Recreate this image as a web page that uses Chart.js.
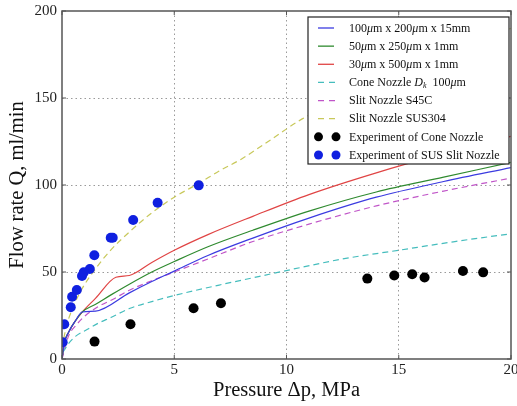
<!DOCTYPE html>
<html><head><meta charset="utf-8">
<script src="https://cdn.jsdelivr.net/npm/chart.js@4/dist/chart.umd.min.js"></script>
<style>html,body{margin:0;padding:0;background:#fff;}canvas{display:block;}</style>
</head><body>
<canvas id="c" width="517" height="406"></canvas>
<script>
// ---- data ----
const seriesLabels = [
  "100μm x 200μm x 15mm",
  "50μm x 250μm x 1mm",
  "30μm x 500μm x 1mm",
  "Cone Nozzle Dₖ  100μm",
  "Slit Nozzle S45C",
  "Slit Nozzle SUS304",
  "Experiment of Cone Nozzle",
  "Experiment of SUS Slit Nozzle"
];
const xTickValues = [0, 5, 10, 15, 20];
const yTickValues = [0, 50, 100, 150, 200];
const xAxisTitle = "Pressure Δp, MPa";
const yAxisTitle = "Flow rate Q, ml/min";

const line100x200X = [0, 0.1, 0.3, 0.6, 0.9, 1.5, 3, 4, 5, 6.5, 8.5, 11, 14, 17, 20];
const line100x200Y = [0, 9, 15.5, 22, 27, 27.5, 38, 44.5, 50.5, 59.5, 69.5, 81, 93, 102, 110];

const line50x250X = [0, 0.1, 0.3, 0.6, 0.9, 1.5, 2.2, 3, 4, 5, 6.5, 8.5, 11, 14, 17, 20];
const line50x250Y = [0, 9, 15.5, 22, 27, 31.5, 37, 43, 50, 56, 64.5, 74, 85, 96, 104.5, 113];

const line30x500X = [0, 0.1, 0.3, 0.6, 0.9, 1.5, 2.4, 3, 4, 5, 6.5, 8.5, 11, 14, 17, 20];
const line30x500Y = [0, 9, 15.5, 22, 27, 35, 47, 48, 55.5, 62.5, 71.5, 82, 94.5, 107, 118, 128];

const coneModelX = [0.05, 0.3, 0.6, 1.2, 1.6, 2.2, 3, 4, 5, 7, 8.8, 10.6, 12.5, 15, 17.5, 20];
const coneModelY = [4, 9, 13, 17.5, 20.5, 24, 29, 33, 36.5, 42.5, 47.5, 52.5, 57.5, 62.5, 67.5, 72];

const slitS45CX = [0, 0.3, 0.6, 1, 1.6, 2.3, 3, 4, 5, 6.5, 8.5, 11, 14, 17, 20];
const slitS45CY = [0, 13.5, 19, 24.5, 30, 34.5, 39.5, 45, 50, 57.5, 67.5, 77.5, 88, 96.5, 104];

const slitSUS304X = [0.08, 0.2, 0.5, 0.9, 1.5, 2.2, 3, 4, 5, 6.1, 7, 8, 9.3, 10.7, 12, 14, 17, 20];
const slitSUS304Y = [12, 19, 30, 40.5, 52, 63, 73, 84, 93, 101, 108, 115, 126, 138, 146, 158, 174, 190];

const expConeX = [1.45, 3.05, 5.86, 7.08, 13.6, 14.8, 15.6, 16.15, 17.86, 18.76];
const expConeY = [10, 20, 29.2, 32, 46.2, 48, 48.7, 46.8, 50.6, 49.8];

const expSlitX = [0.03, 0.1, 0.39, 0.45, 0.66, 0.89, 0.97, 1.24, 1.44, 2.17, 2.26, 3.17, 4.26, 6.09];
const expSlitY = [9.6, 20, 29.7, 35.8, 39.7, 47.7, 49.8, 51.7, 59.6, 69.7, 69.7, 79.9, 89.8, 99.8];

// ---- build ----
function pts(xs, ys) { return xs.map((x, i) => ({x: x, y: ys[i]})); }
function lineDs(i, xs, ys, color, dashed) {
  return {label: seriesLabels[i], data: pts(xs, ys), showLine: true, borderColor: color,
    backgroundColor: color, borderWidth: 1.2, borderDash: dashed ? [6, 4] : [], pointRadius: 0,
    pointHoverRadius: 0, tension: 0.3, cubicInterpolationMode: 'monotone', order: 2, legendKind: dashed ? 'dash' : 'line'};
}
function dotDs(i, xs, ys, color) {
  return {label: seriesLabels[i], data: pts(xs, ys), showLine: false, borderColor: color,
    backgroundColor: color, pointRadius: 5, pointBorderWidth: 0, order: 0, legendKind: 'dots'};
}
const datasets = [
  lineDs(0, line100x200X, line100x200Y, '#3b3be0', false),
  lineDs(1, line50x250X, line50x250Y, '#2f8a2f', false),
  lineDs(2, line30x500X, line30x500Y, '#e04444', false),
  lineDs(3, coneModelX, coneModelY, '#45bdbd', true),
  lineDs(4, slitS45CX, slitS45CY, '#c055c8', true),
  lineDs(5, slitSUS304X, slitSUS304Y, '#c8c85a', true),
  dotDs(6, expConeX, expConeY, '#000000'),
  dotDs(7, expSlitX, expSlitY, '#1020e0')
];

const SERIF = "'Liberation Serif', 'Times New Roman', serif";

function drawRich(ctx, text, x, y, size) {
  let cx = x;
  const normal = size + 'px ' + SERIF;
  const ital = 'italic ' + size + 'px ' + SERIF;
  let buf = '';
  const flush = () => { if (buf) { ctx.font = normal; ctx.fillText(buf, cx, y); cx += ctx.measureText(buf).width; buf = ''; } };
  for (let i = 0; i < text.length; i++) {
    const ch = text[i];
    if (ch === 'μ' || (ch === 'D' && text[i + 1] === 'ₖ')) {
      flush(); ctx.font = ital; ctx.fillText(ch, cx, y); cx += ctx.measureText(ch).width;
    } else if (ch === 'ₖ') {
      flush(); ctx.font = 'italic ' + Math.round(size * 0.7) + 'px ' + SERIF;
      ctx.fillText('k', cx, y + 3); cx += ctx.measureText('k').width;
    } else buf += ch;
  }
  flush();
}

const framePlugin = {
  id: 'frame',
  afterDatasetsDraw(chart) {
    const {ctx, chartArea: a, scales} = chart;
    ctx.save();
    ctx.strokeStyle = '#555';
    ctx.lineWidth = 1.5;
    ctx.setLineDash([]);
    ctx.strokeRect(a.left, a.top, a.right - a.left, a.bottom - a.top);
    ctx.lineWidth = 1;
    const tl = 4;
    xTickValues.forEach(v => {
      const px = scales.x.getPixelForValue(v);
      ctx.beginPath(); ctx.moveTo(px, a.bottom); ctx.lineTo(px, a.bottom - tl);
      ctx.moveTo(px, a.top); ctx.lineTo(px, a.top + tl); ctx.stroke();
    });
    yTickValues.forEach(v => {
      const py = scales.y.getPixelForValue(v);
      ctx.beginPath(); ctx.moveTo(a.left, py); ctx.lineTo(a.left + tl, py);
      ctx.moveTo(a.right, py); ctx.lineTo(a.right - tl, py); ctx.stroke();
    });
    ctx.restore();
  },
  afterDraw(chart) {
    const {ctx} = chart;
    const box = {l: 308, t: 17, r: 509, b: 164};
    ctx.save();
    ctx.fillStyle = '#fff';
    ctx.fillRect(box.l, box.t, box.r - box.l, box.b - box.t);
    ctx.strokeStyle = '#222';
    ctx.lineWidth = 1.2;
    ctx.strokeRect(box.l, box.t, box.r - box.l, box.b - box.t);
    const ds = chart.data.datasets;
    const rowH = (155 - 28) / 7;
    ds.forEach((d, i) => {
      const y = 28 + i * rowH;
      ctx.strokeStyle = d.borderColor; ctx.fillStyle = d.backgroundColor;
      ctx.lineWidth = 1.3; ctx.setLineDash([]);
      if (d.legendKind === 'line') {
        ctx.beginPath(); ctx.moveTo(318, y); ctx.lineTo(334, y); ctx.stroke();
      } else if (d.legendKind === 'dash') {
        ctx.beginPath(); ctx.moveTo(318, y); ctx.lineTo(324, y); ctx.moveTo(329, y); ctx.lineTo(335, y); ctx.stroke();
      } else {
        [318.5, 336].forEach(cx => { ctx.beginPath(); ctx.arc(cx, y, 4.5, 0, Math.PI * 2); ctx.fill(); });
      }
      ctx.fillStyle = '#111'; ctx.textBaseline = 'middle'; ctx.textAlign = 'left';
      drawRich(ctx, d.label, 349, y + 0.5, 12);
    });
    ctx.restore();
  }
};

const gridColor = (ctx, max) => (ctx.tick && (ctx.tick.value === 0 || ctx.tick.value === max)) ? 'rgba(0,0,0,0)' : '#9a9a9a';

new Chart(document.getElementById('c'), {
  type: 'scatter',
  data: {datasets: datasets},
  plugins: [framePlugin],
  options: {
    responsive: false, animation: false, events: [],
    layout: {padding: {left: 0, top: 11, right: 6, bottom: 0}},
    plugins: {legend: {display: false}, tooltip: {enabled: false}},
    scales: {
      x: {
        type: 'linear', min: 0, max: 20,
        afterBuildTicks: s => { s.ticks = xTickValues.map(v => ({value: v})); },
        afterFit: s => { s.height = 47; s.paddingLeft = 0; s.paddingRight = 0; },
        grid: {color: c => gridColor(c, 20), lineWidth: 1, drawTicks: false},
        border: {display: false, dash: [1.5, 3]},
        ticks: {padding: 2, color: '#222', font: {family: SERIF, size: 15}, maxRotation: 0, callback: v => String(v)},
        title: {display: true, text: xAxisTitle, color: '#111', font: {family: SERIF, size: 20.5}, padding: {top: 4, bottom: 3}}
      },
      y: {
        type: 'linear', min: 0, max: 200,
        afterBuildTicks: s => { s.ticks = yTickValues.map(v => ({value: v})); },
        afterFit: s => { s.width = 62; s.paddingTop = 0; s.paddingBottom = 0; },
        grid: {color: c => gridColor(c, 200), lineWidth: 1, drawTicks: false},
        border: {display: false, dash: [1.5, 3]},
        ticks: {padding: 5, color: '#222', font: {family: SERIF, size: 15}, callback: v => String(v)},
        title: {display: true, text: yAxisTitle, color: '#111', font: {family: SERIF, size: 20.5}, padding: {top: 5, bottom: 4}}
      }
    }
  }
});
</script>
</body></html>
